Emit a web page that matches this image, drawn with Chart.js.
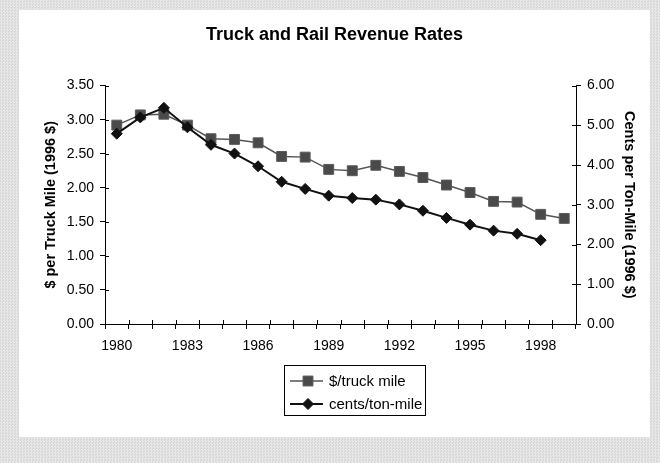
<!DOCTYPE html>
<html>
<head>
<meta charset="utf-8">
<script src="https://cdn.jsdelivr.net/npm/chart.js@4.4.1/dist/chart.umd.min.js"></script>
<style>
html, body { margin: 0; padding: 0; width: 660px; height: 463px; overflow: hidden; }
body { background: #e0e0e0 repeating-conic-gradient(#e8e8e8 0 25%, #d7d7d7 0 50%) 0 0 / 3px 3px; }
#panel { position: absolute; left: 19px; top: 10px; width: 631px; height: 427px; background: #fff; }
</style>
</head>
<body>
<div id="panel"><canvas id="revenueChart" width="631" height="427"></canvas></div>
<script>
const years = ['1980', '1981', '1982', '1983', '1984', '1985', '1986', '1987', '1988', '1989',
  '1990', '1991', '1992', '1993', '1994', '1995', '1996', '1997', '1998', '1999'];
const truckDollars = [2.92, 3.07, 3.08, 2.92, 2.72, 2.71, 2.66, 2.46, 2.45, 2.27,
  2.25, 2.33, 2.24, 2.15, 2.04, 1.93, 1.80, 1.79, 1.61, 1.55];
const railCents = [4.79, 5.20, 5.44, 4.95, 4.51, 4.29, 3.97, 3.58, 3.40, 3.23,
  3.17, 3.13, 3.01, 2.85, 2.67, 2.50, 2.35, 2.27, 2.11, null];
const leftTicks = [0, 0.5, 1, 1.5, 2, 2.5, 3, 3.5];
const rightTicks = [0, 1, 2, 3, 4, 5, 6];

const axisBlack = '#000';
const fontFamily = "'Liberation Sans', Arial, sans-serif";
Chart.defaults.font.family = fontFamily;
Chart.defaults.color = axisBlack;

// Excel-style ticks that cross the axis: draw the inner half of each tick
const crossTicks = {
  id: 'crossTicks',
  beforeDatasetsDraw(chart) {
    const { ctx, scales: { x, y, y1 } } = chart;
    const inner = 4;
    ctx.save();
    ctx.strokeStyle = axisBlack;
    ctx.lineWidth = 1;
    ctx.beginPath();
    for (let i = 0; i <= years.length; i++) {
      const px = Math.round(x.getPixelForValue(i - 0.5)) + 0.5;
      ctx.moveTo(px, x.top);
      ctx.lineTo(px, x.top - inner);
    }
    y.ticks.forEach(t => {
      const py = Math.round(y.getPixelForValue(t.value)) + 0.5;
      ctx.moveTo(y.right, py);
      ctx.lineTo(y.right + inner, py);
    });
    y1.ticks.forEach(t => {
      const py = Math.round(y1.getPixelForValue(t.value)) + 0.5;
      ctx.moveTo(y1.left, py);
      ctx.lineTo(y1.left - inner, py);
    });
    ctx.stroke();
    ctx.restore();
  }
};

// boxed legend with line + marker samples
const boxedLegend = {
  id: 'boxedLegend',
  afterDraw(chart) {
    const ctx = chart.ctx;
    const box = { left: 265, top: 355, width: 141, height: 50 };
    ctx.save();
    ctx.strokeStyle = axisBlack;
    ctx.lineWidth = 1;
    ctx.strokeRect(box.left + 0.5, box.top + 0.5, box.width, box.height);
    ctx.font = '15px ' + fontFamily;
    ctx.textBaseline = 'middle';
    ctx.fillStyle = axisBlack;
    chart.data.datasets.forEach((ds, i) => {
      const cy = box.top + 16 + i * 23;
      ctx.strokeStyle = ds.borderColor;
      ctx.lineWidth = ds.borderWidth;
      ctx.beginPath();
      ctx.moveTo(box.left + 6, cy);
      ctx.lineTo(box.left + 39, cy);
      ctx.stroke();
      ctx.fillStyle = ds.pointBackgroundColor;
      ctx.strokeStyle = ds.pointBorderColor;
      ctx.lineWidth = 1;
      Chart.helpers.drawPoint(ctx, { pointStyle: ds.pointStyle, radius: ds.pointRadius, rotation: 0, borderWidth: 1 }, box.left + 24, cy);
      ctx.fillStyle = axisBlack;
      ctx.fillText(ds.label, box.left + 45, cy + 1);
    });
    ctx.restore();
  }
};

new Chart(document.getElementById('revenueChart'), {
  type: 'line',
  data: {
    labels: years,
    datasets: [
      {
        label: '$/truck mile',
        data: truckDollars,
        yAxisID: 'y',
        order: 1,
        borderColor: '#555555',
        borderWidth: 1.5,
        pointStyle: 'rect',
        pointRadius: 7,
        pointBackgroundColor: '#4a4a4a',
        pointBorderColor: '#5a5a5a',
        pointBorderWidth: 1,
        tension: 0
      },
      {
        label: 'cents/ton-mile',
        data: railCents,
        yAxisID: 'y1',
        order: 0,
        borderColor: '#111111',
        borderWidth: 2,
        pointStyle: 'rectRot',
        pointRadius: 5.5,
        pointBackgroundColor: '#111111',
        pointBorderColor: '#111111',
        pointBorderWidth: 1,
        tension: 0
      }
    ]
  },
  options: {
    responsive: false,
    animation: false,
    layout: { padding: { left: 0, right: 0, top: 0, bottom: 73 } },
    plugins: {
      legend: { display: false },
      tooltip: { enabled: false },
      title: {
        display: true,
        text: 'Truck and Rail Revenue Rates',
        color: axisBlack,
        font: { size: 18, weight: 'bold' },
        padding: { top: 14, bottom: 40 }
      }
    },
    scales: {
      x: {
        offset: true,
        grid: { offset: true, drawOnChartArea: false, tickLength: 5, color: axisBlack },
        border: { color: axisBlack },
        ticks: {
          autoSkip: false,
          maxRotation: 0,
          padding: 9,
          font: { size: 14 },
          callback: (v, i) => (i % 3 === 0 ? years[i] : '')
        },
        afterFit: s => { s.height = 40; }
      },
      y: {
        position: 'left',
        min: leftTicks[0],
        max: leftTicks[leftTicks.length - 1],
        afterBuildTicks: s => { s.ticks = leftTicks.map(v => ({ value: v })); },
        grid: { drawOnChartArea: false, tickLength: 5, color: axisBlack },
        border: { color: axisBlack },
        ticks: { padding: 6, font: { size: 14 }, callback: v => v.toFixed(2) },
        title: {
          display: true,
          text: '$ per Truck Mile (1996 $)',
          font: { size: 14.5, weight: 'bold' },
          padding: { top: 23, bottom: 0 }
        },
        afterFit: s => { s.width = 86; }
      },
      y1: {
        position: 'right',
        min: rightTicks[0],
        max: rightTicks[rightTicks.length - 1],
        afterBuildTicks: s => { s.ticks = rightTicks.map(v => ({ value: v })); },
        grid: { drawOnChartArea: false, tickLength: 5, color: axisBlack },
        border: { color: axisBlack },
        ticks: { padding: 6, font: { size: 14 }, callback: v => v.toFixed(2) },
        title: {
          display: true,
          text: 'Cents per Ton-Mile (1996 $)',
          font: { size: 14.5, weight: 'bold' },
          padding: { top: 12, bottom: 0 }
        },
        afterFit: s => { s.width = 74; }
      }
    }
  },
  plugins: [crossTicks, boxedLegend]
});
</script>
</body>
</html>
